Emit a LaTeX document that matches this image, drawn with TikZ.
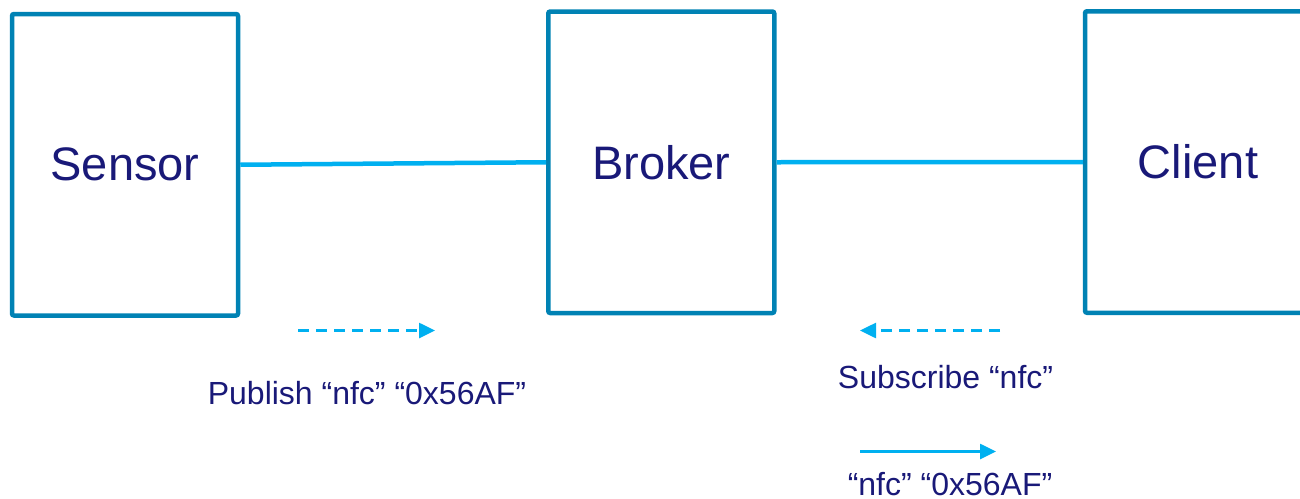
\documentclass[tikz,border=0pt]{standalone}
\usepackage{fontspec}
\setmainfont{Liberation Sans}
\usetikzlibrary{arrows.meta}
\definecolor{boxblue}{RGB}{0,130,180}
\definecolor{linecyan}{RGB}{0,176,240}
\definecolor{textnavy}{RGB}{25,25,120}
\tikzset{
  entity/.style={draw=boxblue, line width=4.5pt, rounded corners=2pt, fill=none,
    minimum width=226pt, minimum height=301.5pt, inner sep=0pt,
    text=textnavy, font=\fontsize{47}{56}\selectfont},
  link/.style={draw=linecyan, line width=4.5pt},
  msg/.style={draw=linecyan, line width=2.6pt, -{Triangle[length=16pt,width=15pt]}},
  msgdash/.style={msg, dash pattern=on 11pt off 7pt},
  msglabel/.style={text=textnavy, font=\fontsize{32}{38}\selectfont, anchor=base, inner sep=0pt}
}
\begin{document}
\begin{tikzpicture}[x=1pt,y=-1pt]
\useasboundingbox (0,0) rectangle (1300,498);
\node[entity] (sensor) at (125,164.75) {Sensor};
\node[entity] (broker) at (661.25,162.25) {Broker};
\node[entity] (client) at (1198,162) {Client};
\draw[link] (sensor.east) -- (broker.west);
\draw[link] (broker.east) -- (client.west);
\coordinate (p1) at (298,330.5);
\coordinate (p2) at (435,330.5);
\coordinate (s1) at (1000,330.5);
\coordinate (s2) at (860,330.5);
\coordinate (r1) at (860,451.5);
\coordinate (r2) at (996,451.5);
\draw[msgdash] (p1) -- (p2);
\draw[msgdash] (s1) -- (s2);
\draw[msg] (r1) -- (r2);
\node[msglabel] (publab) at (367,404) {Publish “nfc” “0x56AF”};
\node[msglabel] (sublab) at (945.5,388) {Subscribe “nfc”};
\node[msglabel] (retlab) at (950,495) {“nfc” “0x56AF”};
\end{tikzpicture}
\end{document}
